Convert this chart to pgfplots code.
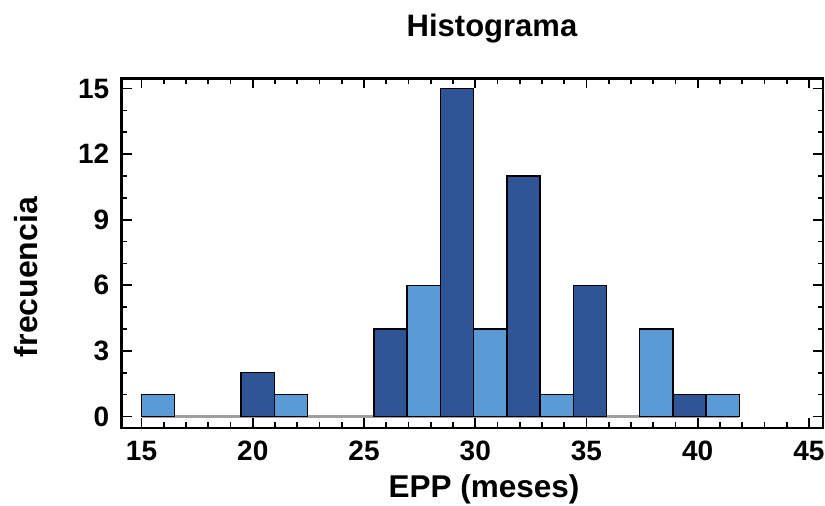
\documentclass[border=0pt]{standalone}
\usepackage{pgfplots}
\pgfplotsset{compat=1.18}
\usepackage{fontspec}
\setmainfont{Liberation Sans}
\definecolor{barDark}{RGB}{47,85,151}
\definecolor{barLight}{RGB}{91,155,213}

\begin{document}
\begin{tikzpicture}[x=1pt,y=1pt]
\path[use as bounding box] (0,0) rectangle (825,506);
\begin{axis}[
  at={(121.5pt,78pt)}, anchor=south west,
  scale only axis, width=701.5pt, height=349.5pt,
  xmin=14.1, xmax=45.63, ymin=-0.53, ymax=15.46,
  xtick={15,20,...,45}, ytick={0,3,...,15},
  minor x tick num=4, minor y tick num=2,
  tick align=inside,
  major tick length=10pt, minor tick length=5.5pt,
  every tick/.style={black, line width=1.8pt},
  axis line style={line width=2.8pt},
  /pgf/number format/assume math mode=true,
  ticklabel style={font=\bfseries\fontsize{28}{31}\selectfont, inner sep=0pt},
  xticklabel style={anchor=north, yshift=-13pt},
  yticklabel style={anchor=east, xshift=-12pt},
]
% empty bins show as a flat line at zero
\addplot[gray!75, line width=2.5pt, forget plot] coordinates {(15,0) (41.865,0)};
% bins of width 1.4925 starting at 15; alternate bins shaded differently
\addplot[ybar, bar width=1.4925, bar shift=0pt, fill=barLight, draw=black, line width=1.4pt]
  coordinates {(15.746,1) (21.716,1) (27.686,6) (30.671,4) (33.656,1) (38.134,4) (41.119,1)};
\addplot[ybar, bar width=1.4925, bar shift=0pt, fill=barDark, draw=black, line width=1.4pt]
  coordinates {(20.224,2) (26.194,4) (29.179,15) (32.164,11) (35.149,6) (39.626,1)};
\end{axis}
\node[anchor=base, font=\bfseries\fontsize{31}{34}\selectfont] at (492,469) {Histograma};
\node[anchor=base, font=\bfseries\fontsize{31.5}{34}\selectfont] at (484,8.5) {EPP (meses)};
\node[anchor=base, rotate=90, font=\bfseries\fontsize{32}{35}\selectfont] at (37,229) {frecuencia};
\end{tikzpicture}
\end{document}
